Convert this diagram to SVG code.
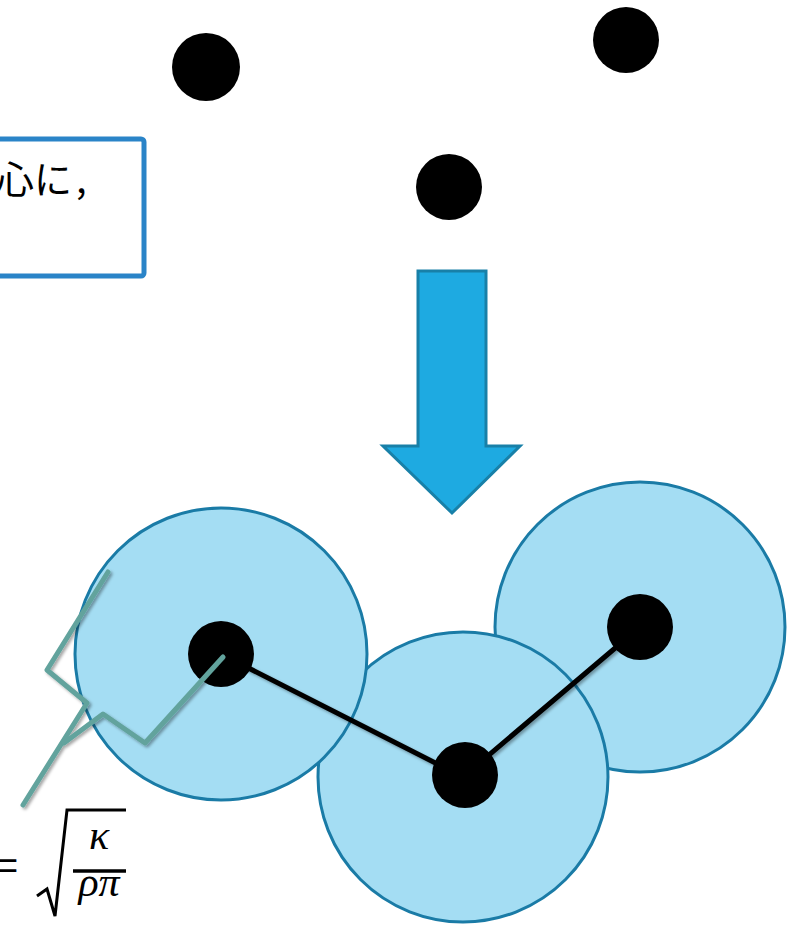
<svg xmlns="http://www.w3.org/2000/svg" width="787" height="927" viewBox="0 0 787 927">
<defs>
<style>
.dot{fill:#000}
.ring{fill:#A4DDF3;stroke:#1A7BA6;stroke-width:3}
.bond{fill:none;stroke:#000;stroke-width:5;stroke-linecap:round}
.callout{fill:none;stroke:#62A39D;stroke-width:5;stroke-linejoin:round;stroke-linecap:round}
.math{font-family:"Liberation Serif","DejaVu Serif",serif;font-style:italic;font-size:42px;fill:#000}
</style>
<filter id="sh" x="-20%" y="-20%" width="140%" height="140%">
<feDropShadow dx="2" dy="2" stdDeviation="1.5" flood-color="#000" flood-opacity="0.35"/>
</filter>
</defs>
<rect width="787" height="927" fill="#fff"/>
<g id="textbox">
<rect x="-10" y="139" width="154" height="137" rx="3" fill="#fff" stroke="#2A84C8" stroke-width="5"/>
<text x="-4" y="193" font-family="Noto Sans CJK JP, sans-serif" font-size="38" fill="#000">心に<tspan x="76">,</tspan></text>
</g>
<g id="dot-a"><circle class="dot" cx="206" cy="67" r="34"/></g>
<g id="dot-b"><circle class="dot" cx="626" cy="40" r="33"/></g>
<g id="dot-c"><circle class="dot" cx="449" cy="187" r="33"/></g>
<g id="arrow">
<polygon points="418,271 486,271 486,446 520,446 452,513 383,446 418,446" fill="#1EAAE1" stroke="#1880A8" stroke-width="3" stroke-linejoin="miter"/>
</g>
<g id="circle-right"><circle class="ring" cx="640" cy="627" r="145"/></g>
<g id="circle-middle"><circle class="ring" cx="463" cy="777" r="145"/></g>
<g id="circle-left"><circle class="ring" cx="221" cy="654" r="146"/></g>
<g id="connectors">
<polyline class="bond" points="221,654 463,777 640,627" filter="url(#sh)"/>
</g>
<g id="node-left"><circle class="dot" cx="221" cy="654" r="33"/></g>
<g id="node-middle"><circle class="dot" cx="465" cy="775" r="33"/></g>
<g id="node-right"><circle class="dot" cx="640" cy="627" r="33"/></g>
<g id="callout" filter="url(#sh)">
<polyline class="callout" points="108,572 47,670 87,703 23,805"/>
<polyline class="callout" points="64,743 103,714 145,743 223,657"/>
</g>
<g id="formula">
<text x="-4" y="879" font-family="Liberation Sans, sans-serif" font-size="38" fill="#000">=</text>
<polyline points="37,896 47,889 55,916 67,810 126,810" fill="none" stroke="#000" stroke-width="3" stroke-linejoin="miter"/>
<text class="math" x="99" y="849" text-anchor="middle">κ</text>
<line x1="73" y1="871" x2="126" y2="871" stroke="#000" stroke-width="3.5"/>
<text class="math" x="99" y="896" text-anchor="middle">ρπ</text>
</g>
</svg>
